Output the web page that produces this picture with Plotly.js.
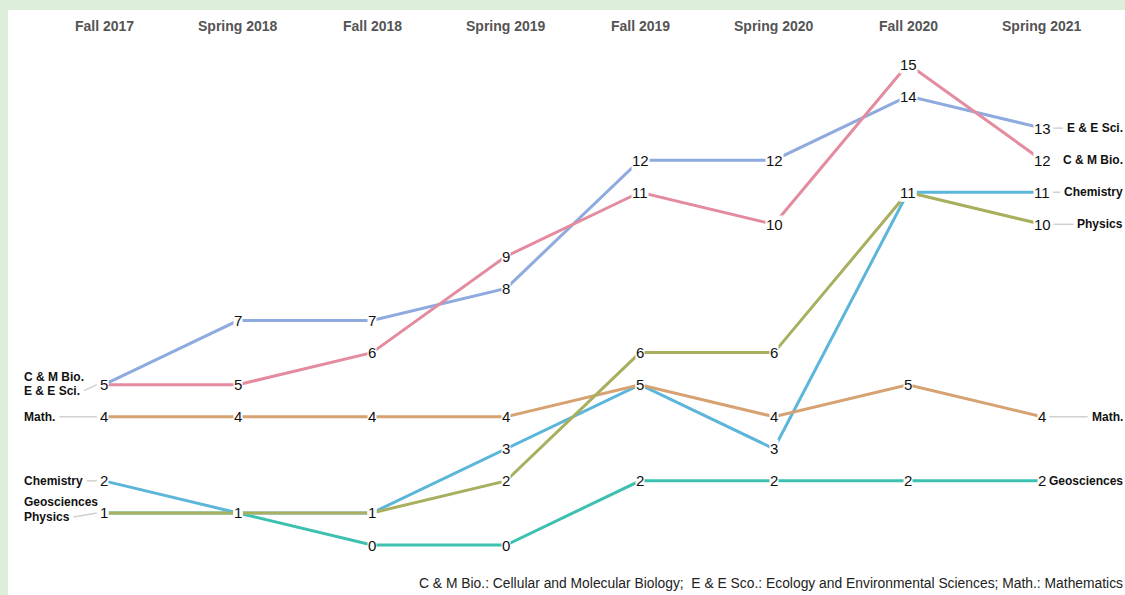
<!DOCTYPE html>
<html>
<head>
<meta charset="utf-8">
<script src="https://cdn.plot.ly/plotly-3.0.1.min.js"></script>
<style>html,body{margin:0;padding:0;background:#fff;}#chart{width:1125px;height:595px;}</style>
</head>
<body>
<div id="chart"></div>
<script>
// ---- data ----
const terms = ['Fall 2017', 'Spring 2018', 'Fall 2018', 'Spring 2019', 'Fall 2019', 'Spring 2020', 'Fall 2020', 'Spring 2021'];
const geosciences = [1, 1, 0, 0, 2, 2, 2, 2];
const chemistry   = [2, 1, 1, 3, 5, 3, 11, 11];
const math        = [4, 4, 4, 4, 5, 4, 5, 4];
const eeSci       = [5, 7, 7, 8, 12, 12, 14, 13];
const cmBio       = [5, 5, 6, 9, 11, 10, 15, 12];
const physics     = [1, 1, 1, 2, 6, 6, 11, 10];
const seriesNames = ['Geosciences', 'Chemistry', 'Math.', 'E & E Sci.', 'C & M Bio.', 'Physics'];
const seriesValues = [geosciences, chemistry, math, eeSci, cmBio, physics];
const seriesColors = ['#3cc1b0', '#5bb6da', '#d6a272', '#8eaadf', '#e38c9f', '#a8af5f'];
const footnote = 'C & M Bio.: Cellular and Molecular Biology;  E & E Sco.: Ecology and Environmental Sciences; Math.: Mathematics';

// ---- layout helpers ----
const W = 1125, H = 595;
const FONT = '"Liberation Sans", Arial, sans-serif';
const colX0 = 104, colStep = 134;           // pixel of first column, column spacing
const y0px = 545, unitPx = (545 - 64) / 15; // pixel of value 0, pixels per unit
const xr0 = -colX0 / colStep, xr1 = xr0 + W / colStep;
const yr0 = -(H - y0px) / unitPx, yr1 = y0px / unitPx;

const cv = document.createElement('canvas').getContext('2d');
function tw(text, font) { cv.font = font; return cv.measureText(text).width; }
const LABEL_SIZE = 12, NUM_SIZE = 15;
const labelFont = 'bold ' + LABEL_SIZE + 'px "Liberation Sans", Arial, sans-serif';
const numFont = NUM_SIZE + 'px "Liberation Sans", Arial, sans-serif';

const traces = seriesValues.map((vals, i) => ({
  type: 'scatter', mode: 'lines',
  x: terms.map((t, j) => j), y: vals,
  line: {color: seriesColors[i], width: 3},
  hoverinfo: 'skip', showlegend: false
}));

const annotations = [];
const shapes = [
  {type: 'rect', xref: 'paper', yref: 'paper', x0: 0, x1: 8 / W, y0: 0, y1: 1, fillcolor: '#ddeeda', line: {width: 0}, layer: 'below'},
  {type: 'rect', xref: 'paper', yref: 'paper', x0: 0, x1: 1, y0: 1 - 10 / H, y1: 1, fillcolor: '#ddeeda', line: {width: 0}, layer: 'below'}
];

// column headers
terms.forEach((t, j) => annotations.push({
  x: j, xref: 'x', y: 1 - 26 / H, yref: 'paper', text: '<b>' + t + '</b>', showarrow: false,
  xanchor: 'center', yanchor: 'middle', font: {family: FONT, size: 14, color: '#555555'}
}));

// value labels
seriesValues.forEach(vals => vals.forEach((v, j) => annotations.push({
  x: j, y: v, xref: 'x', yref: 'y', text: String(v), showarrow: false,
  xanchor: 'center', yanchor: 'middle', bgcolor: '#ffffff', borderpad: 0,
  font: {family: FONT, size: NUM_SIZE, color: '#111111'}
})));

// left side labels (stacked where start values collide)
const leftShift = {'C & M Bio.': 8, 'E & E Sci.': -6, 'Math.': 0, 'Chemistry': 0, 'Geosciences': 11, 'Physics': -4};
const leftConnector = {'E & E Sci.': true, 'Math.': true, 'Chemistry': true, 'Physics': true};
const leftX = 22 - colX0;
seriesNames.forEach((name, i) => {
  const v = seriesValues[i][0];
  const ys = leftShift[name];
  annotations.push({x: 0, y: v, xref: 'x', yref: 'y', xshift: leftX, yshift: ys,
    text: '<b>' + name + '</b>', showarrow: false, xanchor: 'left', yanchor: 'middle',
    font: {family: FONT, size: LABEL_SIZE, color: '#111111'}});
  if (leftConnector[name]) {
    const end = leftX + 2 + tw(name, labelFont) + 4;
    const numHalf = tw(String(v), numFont) / 2 + 3;
    shapes.push({type: 'line', xref: 'x', yref: 'y', xsizemode: 'pixel', ysizemode: 'pixel',
      xanchor: 0, yanchor: v, x0: end, x1: -numHalf, y0: ys, y1: 0,
      line: {color: '#d0d0d0', width: 1.5}});
  }
});

// right side labels
const last = terms.length - 1;
const rightConnector = {'E & E Sci.': true, 'Chemistry': true, 'Physics': true, 'Math.': true};
seriesNames.forEach((name, i) => {
  const v = seriesValues[i][last];
  const rightEdge = 1125 - (colX0 + last * colStep);
  annotations.push({x: last, y: v, xref: 'x', yref: 'y', xshift: rightEdge,
    text: '<b>' + name + '</b>', showarrow: false, xanchor: 'right', yanchor: 'middle',
    font: {family: FONT, size: LABEL_SIZE, color: '#111111'}});
  const start = tw(String(v), numFont) / 2 + 3;
  const end = rightEdge - 2 - tw(name, labelFont) - 4;
  if (rightConnector[name] && end > start) {
    shapes.push({type: 'line', xref: 'x', yref: 'y', xsizemode: 'pixel', ysizemode: 'pixel',
      xanchor: last, yanchor: v, x0: start, x1: end, y0: 0, y1: 0,
      line: {color: '#d0d0d0', width: 1.5}});
  }
});

// footnote
annotations.push({x: 1125 / W, xref: 'paper', y: 1 - 583 / H, yref: 'paper', text: footnote,
  showarrow: false, xanchor: 'right', yanchor: 'middle', font: {family: FONT, size: 13.85, color: '#222222'}});

const layout = {
  width: W, height: H, margin: {l: 0, r: 0, t: 0, b: 0},
  paper_bgcolor: '#ffffff', plot_bgcolor: '#ffffff',
  xaxis: {range: [xr0, xr1], visible: false, fixedrange: true},
  yaxis: {range: [yr0, yr1], visible: false, fixedrange: true},
  showlegend: false, annotations: annotations, shapes: shapes,
  font: {family: FONT}
};
Plotly.newPlot('chart', traces, layout, {displayModeBar: false, staticPlot: true});
</script>
</body>
</html>
